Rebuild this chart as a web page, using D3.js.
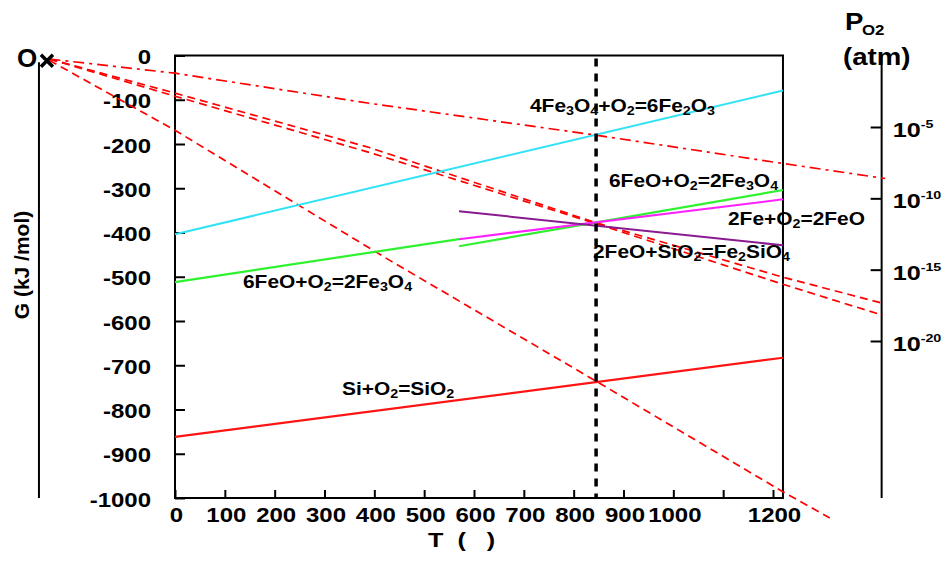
<!DOCTYPE html>
<html>
<head>
<meta charset="utf-8">
<script src="https://cdn.jsdelivr.net/npm/d3@7"></script>
<style>
  body { margin: 0; background: #fff; }
  svg { display: block; font-family: "Liberation Sans", Arial, sans-serif; }
</style>
</head>
<body>
<svg id="chart" width="948" height="563"></svg>
<script>
// ---- axis ticks ----
const tempTicks = [0, 100, 200, 300, 400, 500, 600, 700, 800, 900, 1000, 1100, 1200];
const tempLabels = ["0", "100", "200", "300", "400", "500", "600", "700", "800", "900", "1000", "", "1200"];
const energyTicks = [0, -100, -200, -300, -400, -500, -600, -700, -800, -900, -1000];
const po2Exponents = [-5, -10, -15, -20];

// ---- reaction lines: [T (°C), ΔG (kJ/mol)] ----
const fe3o4ToFe2o3 = [[0, -404], [1220, -79]];
const feoToFe3o4Low = [[0, -512], [570, -415]];
const feToFeo = [[570, -415], [1220, -325]];
const feoToFe3o4High = [[570, -431], [1220, -304]];
const fayalite = [[570, -352], [1220, -429]];
const siToSio2 = [[0, -862], [1220, -683]];

// ---- oxygen isobars drawn from the origin O ----
const isobarTop = [[-252, -8], [0, -40], [390, -108], [845, -180], [1220, -244], [1425, -278]];
const isobarMidA = [[-252, -8], [0, -85], [390, -208], [845, -378], [1220, -501], [1420, -560]];
const isobarMidB = [[-252, -8], [0, -92], [390, -219], [845, -380], [1220, -517], [1420, -587]];
const isobarLow = [[-252, -11], [0, -169], [431, -463], [845, -736], [1220, -986], [1314, -1045]];

const originPoint = [-257, -12];
const workingTemp = 845;
const tMax = 1220;
const oAxisT = -273;
const po2AxisT = 1418;

// ---- scales ----
const x = d3.scaleLinear().domain([0, 1200]).range([175, 773]);
const y = d3.scaleLinear().domain([0, -1000]).range([55.5, 498]);
const pY = d3.scaleLinear().domain([-5, -20]).range([127, 341]);

const svg = d3.select("#chart");
const line = d3.line().x(d => x(d[0])).y(d => y(d[1]));

// text helper with horizontal stretch
function stretchText(g, str, px, py, opts) {
  const o = Object.assign({ size: 20, weight: "bold", anchor: "start", sx: 1.2 }, opts || {});
  return g.append("text")
    .attr("transform", `translate(${px},${py}) scale(${o.sx},1)`)
    .attr("text-anchor", o.anchor)
    .attr("font-size", o.size)
    .attr("font-weight", o.weight)
    .attr("fill", "#000")
    .text(str);
}

// chemical formula label: "_d" marks a subscript digit
function formulaLabel(str, px, py) {
  const t = svg.append("text")
    .attr("transform", `translate(${px},${py}) scale(1.1,1)`)
    .attr("font-size", 19)
    .attr("font-weight", "bold")
    .attr("fill", "#000");
  const parts = str.split(/(_\d)/).filter(s => s.length);
  let shifted = false;
  parts.forEach(p => {
    if (p[0] === "_") {
      t.append("tspan").attr("font-size", 13).attr("dy", 3).text(p.slice(1));
      shifted = true;
    } else {
      t.append("tspan").attr("dy", shifted ? -3 : 0).text(p);
      shifted = false;
    }
  });
}

// ---- frame ----
svg.append("rect")
  .attr("x", x(0)).attr("y", y(0))
  .attr("width", x(tMax) - x(0)).attr("height", y(-1000) - y(0))
  .attr("fill", "none").attr("stroke", "#000").attr("stroke-width", 2);

// left energy axis (ticks pointing inward)
const yAxis = svg.append("g")
  .attr("transform", `translate(${x(0)},0)`)
  .call(d3.axisLeft(y).tickValues(energyTicks).tickSize(-10).tickFormat(d => d));
yAxis.select(".domain").remove();
yAxis.selectAll(".tick line").attr("stroke", "#000").attr("stroke-width", 2);
yAxis.selectAll(".tick text").each(function(d) {
  d3.select(this)
    .attr("x", null).attr("dy", null)
    .attr("transform", "translate(-24,8) scale(1.2,1)")
    .attr("text-anchor", "end")
    .attr("font-size", 20).attr("font-weight", "bold")
    .attr("font-family", "Liberation Sans, Arial, sans-serif")
    .attr("fill", "#000");
});

// bottom temperature axis (ticks pointing inward)
const xAxis = svg.append("g")
  .attr("transform", `translate(0,${y(-1000)})`)
  .call(d3.axisBottom(x).tickValues(tempTicks).tickSize(-8)
    .tickFormat((d, i) => tempLabels[i]));
xAxis.select(".domain").remove();
xAxis.selectAll(".tick line").attr("stroke", "#000").attr("stroke-width", 2);
xAxis.selectAll(".tick text").each(function() {
  d3.select(this)
    .attr("y", null).attr("dy", null)
    .attr("transform", "translate(1,24) scale(1.2,1)")
    .attr("text-anchor", "middle")
    .attr("font-size", 20).attr("font-weight", "bold")
    .attr("font-family", "Liberation Sans, Arial, sans-serif")
    .attr("fill", "#000");
});

// ---- O axis (absolute zero) ----
svg.append("line")
  .attr("x1", x(oAxisT)).attr("x2", x(oAxisT))
  .attr("y1", y(-15)).attr("y2", y(-1000))
  .attr("stroke", "#000").attr("stroke-width", 2);

// ---- P_O2 nomogram axis ----
svg.append("line")
  .attr("x1", x(po2AxisT)).attr("x2", x(po2AxisT))
  .attr("y1", y(0)).attr("y2", y(-1000))
  .attr("stroke", "#000").attr("stroke-width", 2);
const pAxis = svg.append("g")
  .attr("transform", `translate(${x(po2AxisT)},0)`)
  .call(d3.axisLeft(pY).tickValues(po2Exponents).tickSize(11).tickFormat(""));
pAxis.select(".domain").remove();
pAxis.selectAll(".tick line").attr("stroke", "#000").attr("stroke-width", 2);

po2Exponents.forEach(e => {
  const ty = pY(e);
  stretchText(svg, "10", x(po2AxisT) + 11, ty + 10, { size: 21, sx: 1.2 });
  stretchText(svg, String(e), x(po2AxisT) + 39, ty + 1, { size: 11, sx: 1.3 });
});

// P_O2 (atm) title
stretchText(svg, "P", 845, 30, { size: 24, sx: 1.15 });
stretchText(svg, "O2", 862, 35, { size: 14, sx: 1.2 });
stretchText(svg, "(atm)", 843, 65, { size: 23, sx: 1.2 });

// ---- reaction lines ----
const solid = [
  [fe3o4ToFe2o3, "#2fe3f5", 2],
  [feoToFe3o4Low, "#2ef22e", 2.2],
  [feoToFe3o4High, "#2ef22e", 2.2],
  [feToFeo, "#ff22ff", 2],
  [fayalite, "#8a1a90", 2],
  [siToSio2, "#ff1414", 2.2]
];

// ---- oxygen isobars (dashed red) ----
const dashed = [
  [isobarTop, "11,5,3,5"],
  [isobarMidA, "8,5"],
  [isobarMidB, "8,5"],
  [isobarLow, "8,5"]
];
dashed.forEach(([d, dash]) => {
  svg.append("path").datum(d).attr("d", line)
    .attr("fill", "none").attr("stroke", "#ff0000")
    .attr("stroke-width", 1.7).attr("stroke-dasharray", dash);
});

solid.forEach(([d, c, w]) => {
  svg.append("path").datum(d).attr("d", line)
    .attr("fill", "none").attr("stroke", c).attr("stroke-width", w);
});

// working temperature marker
svg.append("line")
  .attr("x1", x(workingTemp)).attr("x2", x(workingTemp))
  .attr("y1", y(0) + 3).attr("y2", y(-1000))
  .attr("stroke", "#000").attr("stroke-width", 3.5)
  .attr("stroke-dasharray", "8,7");

// ---- origin marker ----
const ox = x(originPoint[0]), oy = y(originPoint[1]);
svg.append("path")
  .attr("d", `M${ox - 6},${oy - 6}L${ox + 6},${oy + 6}M${ox - 6},${oy + 6}L${ox + 6},${oy - 6}`)
  .attr("stroke", "#000").attr("stroke-width", 3.5).attr("fill", "none");
stretchText(svg, "O", 17, 67, { size: 26, sx: 1 });

// ---- reaction labels ----
formulaLabel("4Fe_3O_4+O_2=6Fe_2O_3", 530, 112);
formulaLabel("6FeO+O_2=2Fe_3O_4", 609, 187);
formulaLabel("2Fe+O_2=2FeO", 728, 225);
formulaLabel("2FeO+SiO_2=Fe_2SiO_4", 593, 258);
formulaLabel("6FeO+O_2=2Fe_3O_4", 243, 288);
formulaLabel("Si+O_2=SiO_2", 342, 395);

// ---- axis titles ----
svg.append("text")
  .attr("transform", "translate(29,265) rotate(-90)")
  .attr("text-anchor", "middle")
  .attr("font-size", 21).attr("font-weight", "bold").attr("fill", "#000")
  .text("G (kJ /mol)");

svg.append("text")
  .attr("transform", "translate(428,547) scale(1.2,1)")
  .attr("font-size", 21).attr("font-weight", "bold").attr("fill", "#000")
  .style("white-space", "pre")
  .text("T  (   )");
</script>
</body>
</html>
